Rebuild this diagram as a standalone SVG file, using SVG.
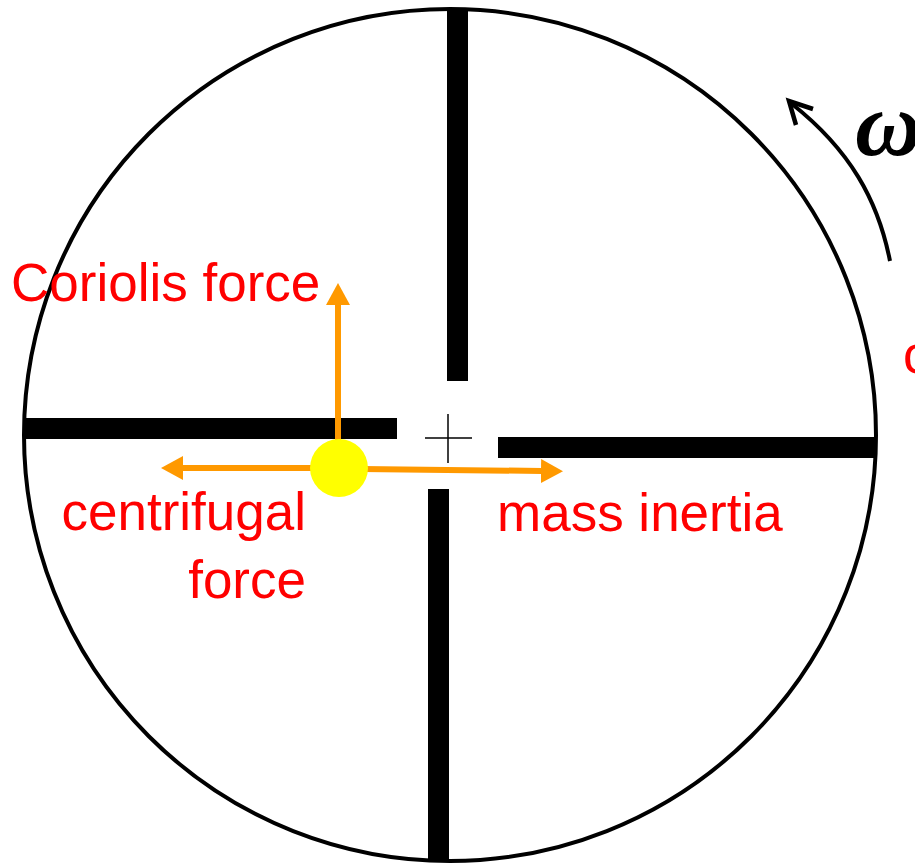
<svg xmlns="http://www.w3.org/2000/svg" width="915" height="865" viewBox="0 0 915 865">
<style>
.lbl{font-family:"Liberation Sans",Arial,sans-serif;font-size:53px;fill:#FF0000}
.bar{fill:#000}
.force{stroke:#FF9900;stroke-width:6;fill:none}
</style>
<defs>
<marker id="oh" markerWidth="24" markerHeight="24" viewBox="0 0 24 24" refX="1" refY="12" orient="auto" markerUnits="userSpaceOnUse">
<path d="M0,0 L22,12 L0,24 Z" fill="#FF9900"/>
</marker>
</defs>
<rect width="915" height="865" fill="#fff"/>
<g id="disc">
<circle cx="450" cy="435" r="426" fill="none" stroke="#000" stroke-width="4"/>
</g>
<g id="vanes">
<rect class="bar" x="447" y="10" width="21" height="371"/>
<rect class="bar" x="428" y="489" width="21" height="372"/>
<rect class="bar" x="24" y="418" width="373" height="21"/>
<rect class="bar" x="498" y="437" width="377" height="21"/>
</g>
<g id="center" stroke="#000" stroke-width="1.5">
<line x1="425" y1="438" x2="472" y2="438"/>
<line x1="448" y1="414" x2="448" y2="463"/>
</g>
<g id="connectors">
<line class="force" x1="338" y1="440" x2="338" y2="304" marker-end="url(#oh)"/>
<line class="force" x1="315" y1="468" x2="182" y2="468" marker-end="url(#oh)"/>
<line class="force" x1="362" y1="469" x2="542" y2="471" marker-end="url(#oh)"/>
</g>
<g id="mass">
<circle cx="339" cy="468" r="29" fill="#FFFF00"/>
</g>
<g id="rotation">
<path d="M890,261 C878,200 850,150 792,104" fill="none" stroke="#000" stroke-width="4"/>
<path d="M813,109 L789,101 L796,125" fill="none" stroke="#000" stroke-width="4.5" stroke-linejoin="miter"/>
<text x="855" y="155" font-family="'Liberation Serif','DejaVu Serif',serif" font-style="italic" font-weight="bold" font-size="92" fill="#000">ω</text>
</g>
<g id="labels">
<text class="lbl" x="11" y="301">Coriolis force</text>
<text class="lbl" x="306" y="530" text-anchor="end">centrifugal</text>
<text class="lbl" x="306" y="598" text-anchor="end">force</text>
<text class="lbl" x="497" y="531">mass inertia</text>
<text class="lbl" x="903" y="373">c</text>
</g>
</svg>
